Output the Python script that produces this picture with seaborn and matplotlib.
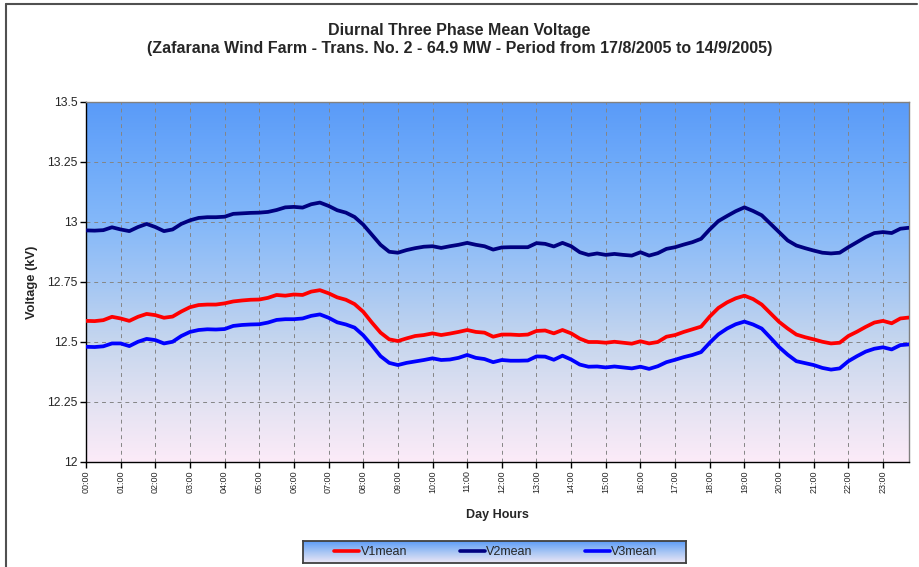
import numpy as np
import pandas as pd
import matplotlib
matplotlib.use('Agg')
import matplotlib.pyplot as plt
from matplotlib.colors import LinearSegmentedColormap
from matplotlib.lines import Line2D
import seaborn as sns

# 15-minute slots over one day (00:00 .. 23:45)
slots = pd.date_range('2005-08-17 00:00', periods=96, freq='15min')
hours = slots.hour + slots.minute / 60

# mean phase voltages in kV
v1_mean = [12.588, 12.587, 12.591, 12.605, 12.598, 12.588, 12.605, 12.617,
           12.612, 12.601, 12.606, 12.627, 12.645, 12.654, 12.656, 12.656,
           12.661, 12.669, 12.673, 12.676, 12.677, 12.684, 12.696, 12.693,
           12.698, 12.696, 12.710, 12.716, 12.703, 12.686, 12.676, 12.658,
           12.626, 12.581, 12.539, 12.511, 12.504, 12.515, 12.525, 12.529,
           12.536, 12.529, 12.535, 12.542, 12.550, 12.542, 12.539, 12.522,
           12.531, 12.531, 12.529, 12.531, 12.546, 12.548, 12.536, 12.550,
           12.536, 12.514, 12.500, 12.500, 12.497, 12.501, 12.497, 12.493,
           12.503, 12.494, 12.500, 12.522, 12.529, 12.542, 12.553, 12.564,
           12.606, 12.642, 12.665, 12.682, 12.693, 12.679, 12.656, 12.620,
           12.584, 12.556, 12.531, 12.520, 12.511, 12.501, 12.494, 12.497,
           12.525, 12.543, 12.563, 12.581, 12.588, 12.578, 12.598, 12.602]

v2_mean = [12.965, 12.964, 12.966, 12.978, 12.969, 12.962, 12.979, 12.992,
           12.979, 12.962, 12.969, 12.992, 13.007, 13.017, 13.020, 13.020,
           13.022, 13.034, 13.036, 13.038, 13.039, 13.042, 13.050, 13.061,
           13.063, 13.060, 13.074, 13.081, 13.067, 13.049, 13.039, 13.021,
           12.989, 12.947, 12.905, 12.876, 12.872, 12.883, 12.891, 12.897,
           12.899, 12.892, 12.899, 12.905, 12.913, 12.905, 12.899, 12.885,
           12.894, 12.895, 12.895, 12.895, 12.912, 12.909, 12.898, 12.913,
           12.899, 12.874, 12.863, 12.869, 12.863, 12.867, 12.863, 12.860,
           12.874, 12.860, 12.870, 12.888, 12.895, 12.906, 12.916, 12.930,
           12.969, 13.004, 13.025, 13.045, 13.061, 13.046, 13.028, 12.993,
           12.958, 12.923, 12.902, 12.891, 12.881, 12.872, 12.869, 12.872,
           12.895, 12.916, 12.937, 12.954, 12.958, 12.954, 12.972, 12.976]

v3_mean = [12.480, 12.479, 12.482, 12.494, 12.494, 12.483, 12.501, 12.513,
           12.508, 12.494, 12.501, 12.525, 12.542, 12.550, 12.553, 12.552,
           12.554, 12.567, 12.571, 12.573, 12.574, 12.581, 12.592, 12.595,
           12.595, 12.598, 12.609, 12.615, 12.601, 12.582, 12.573, 12.560,
           12.528, 12.486, 12.441, 12.413, 12.404, 12.413, 12.419, 12.425,
           12.432, 12.425, 12.427, 12.434, 12.446, 12.434, 12.429, 12.416,
           12.425, 12.422, 12.422, 12.423, 12.440, 12.439, 12.426, 12.443,
           12.427, 12.406, 12.397, 12.398, 12.394, 12.398, 12.394, 12.390,
           12.397, 12.388, 12.399, 12.416, 12.426, 12.437, 12.446, 12.458,
           12.497, 12.532, 12.556, 12.574, 12.585, 12.573, 12.556, 12.518,
           12.479, 12.447, 12.420, 12.412, 12.404, 12.392, 12.385, 12.390,
           12.420, 12.441, 12.460, 12.472, 12.478, 12.469, 12.487, 12.490]

hour_labels = [f'{h:02d}:00' for h in range(24)]
y_ticks = [12, 12.25, 12.5, 12.75, 13, 13.25, 13.5]
y_labels = ['12', '12.25', '12.5', '12.75', '13', '13.25', '13.5']
phase_colors = {'V1mean': '#ff0000', 'V2mean': '#000080', 'V3mean': '#0000ff'}

df = pd.DataFrame({'hour': hours, 'V1mean': v1_mean,
                   'V2mean': v2_mean, 'V3mean': v3_mean})
df_long = df.melt(id_vars='hour', var_name='phase', value_name='kV')

sns.set_theme(style='ticks')
plt.rcParams['font.family'] = ['Liberation Sans', 'DejaVu Sans']

fig = plt.figure(figsize=(9.19, 5.67), dpi=100)
ax = fig.add_axes([86 / 919, 1 - 462 / 567, 823 / 919, 360 / 567])

# gradient plot background (pink at bottom to blue at top)
bg = LinearSegmentedColormap.from_list(
    'bg', ['#fcebf8', '#e2e2f2', '#c6d6ee', '#a3c6f4', '#84b8f9', '#6eaafa', '#5a9bf8'])
ax.imshow(np.linspace(0, 1, 256).reshape(-1, 1), cmap=bg, origin='lower',
          aspect='auto', extent=[0, 23.75, 12, 13.5], zorder=0)

sns.lineplot(data=df_long, x='hour', y='kV', hue='phase', palette=phase_colors,
             linewidth=2.7, ax=ax, legend=False, zorder=3)

ax.set_xlim(0, 23.75)
ax.set_ylim(12, 13.5)
ax.set_xticks(range(24))
ax.set_xticklabels(hour_labels, rotation=90, fontsize=6.5)
ax.set_yticks(y_ticks)
ax.set_yticklabels(y_labels, fontsize=8.7)
ax.grid(True, linestyle=(0, (4, 4)), color='#858585', linewidth=0.7)
ax.tick_params(direction='out', length=4, width=1, color='black', pad=2)
for side in ['left', 'bottom']:
    ax.spines[side].set_color('black')
    ax.spines[side].set_linewidth(1.0)
for side in ['top', 'right']:
    ax.spines[side].set_color('#808080')
    ax.spines[side].set_linewidth(1.0)

ax.set_xlabel('Day Hours', fontsize=9, fontweight='bold')
ax.xaxis.set_label_coords(0.5, (462 - 515) / 360)
ax.xaxis.label.set_va('center')
ax.set_ylabel('Voltage (kV)', fontsize=9.3, fontweight='bold')
ax.yaxis.set_label_coords((32 - 86) / 823, 0.5)
ax.yaxis.label.set_va('center')

fig.text(0.5, 1 - 30 / 567, 'Diurnal Three Phase Mean Voltage',
         ha='center', va='center', fontsize=11.5, fontweight='bold')
fig.text(0.5, 1 - 48 / 567,
         '(Zafarana Wind Farm - Trans. No. 2 - 64.9 MW - Period from 17/8/2005 to 14/9/2005)',
         ha='center', va='center', fontsize=11.5, fontweight='bold')

# chart frame (top and left edges visible)
fig.add_artist(Line2D([6 / 919, 917 / 919], [1 - 4 / 567, 1 - 4 / 567],
                      color='#505050', linewidth=1.5))
fig.add_artist(Line2D([6 / 919, 6 / 919], [0, 1 - 4 / 567],
                      color='#505050', linewidth=1.5))

# legend box with gradient fill
lax = fig.add_axes([303 / 919, 1 - 563 / 567, 383 / 919, 22 / 567])
leg_bg = LinearSegmentedColormap.from_list('leg', ['#ece6f6', '#a8c6f4', '#5e9df8'])
lax.imshow(np.linspace(0, 1, 64).reshape(-1, 1), cmap=leg_bg, origin='lower',
           aspect='auto', extent=[0, 1, 0, 1])
lax.set_xticks([])
lax.set_yticks([])
for s in lax.spines.values():
    s.set_color('#404040')
    s.set_linewidth(1.3)

handles = [Line2D([0], [0], color=c, linewidth=2.6) for c in phase_colors.values()]
fig.legend(handles, list(phase_colors.keys()), loc='center',
           bbox_to_anchor=(496 / 919, 1 - 552 / 567), ncol=3, frameon=False,
           handlelength=2.0, handletextpad=0.1, columnspacing=4.2, fontsize=9)

plt.savefig('out.png', dpi=100)
